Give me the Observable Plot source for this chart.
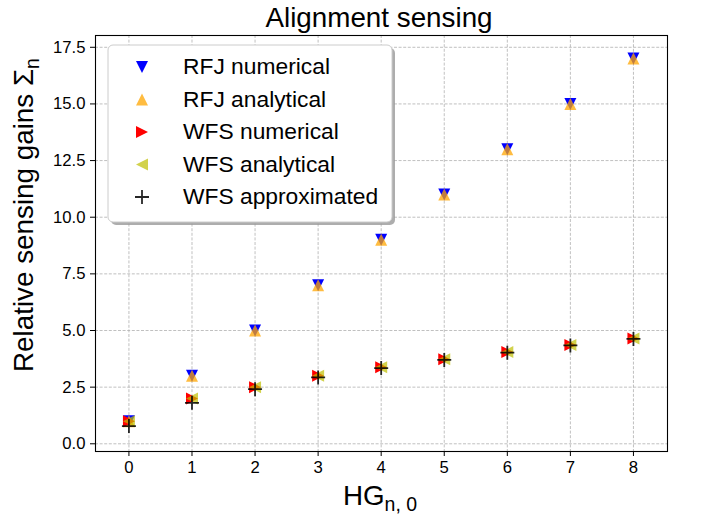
<!DOCTYPE html>
<html>
<head>
<meta charset="utf-8">
<script src="https://cdn.jsdelivr.net/npm/d3@7"></script>
<script src="https://cdn.jsdelivr.net/npm/@observablehq/plot@0.6"></script>
<style>
  html, body { margin: 0; padding: 0; background: white; }
  #chart { position: relative; width: 705px; height: 516px; }
</style>
</head>
<body>
<div id="chart"></div>
<script>
// ---- data ----
const modes = [0, 1, 2, 3, 4, 5, 6, 7, 8];
const rfjNumerical = [1, 3, 5, 7, 9, 11, 13, 15, 17];
const rfjAnalytical = [1, 3, 5, 7, 9, 11, 13, 15, 17];
const wfsNumerical = [1, 2, 2.5, 3, 3.38, 3.73, 4.05, 4.36, 4.65];
const wfsAnalytical = [1, 2, 2.5, 3, 3.38, 3.73, 4.05, 4.36, 4.65];
const wfsApproximated = [0.78, 1.81, 2.41, 2.93, 3.34, 3.7, 4.02, 4.34, 4.63];
const xTicks = [0, 1, 2, 3, 4, 5, 6, 7, 8];
const yTicks = [0, 2.5, 5, 7.5, 10, 12.5, 15, 17.5];
const legendLabels = ["RFJ numerical", "RFJ analytical", "WFS numerical", "WFS analytical", "WFS approximated"];

const rows = modes.map((n, i) => ({
  n,
  rfjNum: rfjNumerical[i],
  rfjAna: rfjAnalytical[i],
  wfsNum: wfsNumerical[i],
  wfsAna: wfsAnalytical[i],
  wfsApp: wfsApproximated[i]
}));

// ---- custom marker shapes (matplotlib-like) ----
const rad = (size) => Math.sqrt(size / Math.PI);
const triDown = { draw(c, size) { const r = rad(size); c.moveTo(-r, -r); c.lineTo(r, -r); c.lineTo(0, r); c.closePath(); } };
const triUp = { draw(c, size) { const r = rad(size); c.moveTo(0, -r); c.lineTo(r, r); c.lineTo(-r, r); c.closePath(); } };
const triRight = { draw(c, size) { const r = rad(size); c.moveTo(-r, -r); c.lineTo(r, 0); c.lineTo(-r, r); c.closePath(); } };
const triLeft = { draw(c, size) { const r = rad(size); c.moveTo(r, -r); c.lineTo(-r, 0); c.lineTo(r, r); c.closePath(); } };
const plus = { draw(c, size) { const r = rad(size); c.moveTo(-r, 0); c.lineTo(r, 0); c.moveTo(0, -r); c.lineTo(0, r); } };

const styles = [
  { symbol: triDown, fill: "#0000ff", opacity: 1, key: "rfjNum" },
  { symbol: triUp, fill: "#ffa500", opacity: 0.75, key: "rfjAna" },
  { symbol: triRight, fill: "#ff0000", opacity: 1, key: "wfsNum" },
  { symbol: triLeft, fill: "#bfbf00", opacity: 0.7, key: "wfsAna" },
  { symbol: plus, stroke: "#000000", opacity: 0.85, key: "wfsApp" }
];

const gridStyle = { stroke: "#b0b0b0", strokeOpacity: 1, strokeWidth: 0.8, strokeDasharray: "3,1.6" };

const dotMarks = styles.map(s => s.symbol === plus
  ? Plot.dot(rows, { x: "n", y: s.key, symbol: s.symbol, r: 7, fill: "none", stroke: s.stroke, strokeWidth: 1.8, strokeOpacity: s.opacity })
  : Plot.dot(rows, { x: "n", y: s.key, symbol: s.symbol, r: 6, fill: s.fill, fillOpacity: s.opacity, stroke: "none" }));

const chart = Plot.plot({
  width: 705,
  height: 516,
  marginLeft: 95,
  marginRight: 38,
  marginTop: 35,
  marginBottom: 65,
  style: { fontFamily: "'Liberation Sans', Arial, sans-serif", color: "black", background: "white", overflow: "visible" },
  x: { type: "linear", domain: [-0.53, 8.54] },
  y: { type: "linear", domain: [-0.34, 18.02] },
  marks: [
    Plot.gridX({ ticks: xTicks, ...gridStyle }),
    Plot.gridY({ ticks: yTicks, ...gridStyle }),
    Plot.axisX({ ticks: xTicks, tickSize: 5, tickPadding: 5, fontSize: 16.7, label: null, tickFormat: d3.format("d") }),
    Plot.axisY({ ticks: yTicks, tickSize: 5, tickPadding: 5, fontSize: 16.7, label: null, tickFormat: d3.format(".1f") }),
    ...dotMarks,
    Plot.frame({ stroke: "black", strokeWidth: 1.1 })
  ]
});

document.getElementById("chart").appendChild(chart);

// ---- title, axis labels, legend ----
const svg = d3.select(chart);
const font = "'Liberation Sans', Arial, sans-serif";

svg.append("text")
  .attr("x", 379).attr("y", 27)
  .attr("text-anchor", "middle")
  .attr("font-family", font).attr("font-size", 27.8).attr("fill", "black")
  .text("Alignment sensing");

const xl = svg.append("text")
  .attr("x", 380).attr("y", 505)
  .attr("text-anchor", "middle")
  .attr("font-family", font).attr("font-size", 27.8).attr("fill", "black");
xl.append("tspan").text("HG");
xl.append("tspan").attr("font-size", 19.5).attr("dy", 6).text("n, 0");

const yl = svg.append("text")
  .attr("transform", "translate(33,215) rotate(-90)")
  .attr("text-anchor", "middle")
  .attr("font-family", font).attr("font-size", 27.8).attr("fill", "black");
yl.append("tspan").text("Relative sensing gains Σ");
yl.append("tspan").attr("font-size", 19.5).attr("dy", 6).text("n");

// legend
const lg = svg.append("g").attr("text-anchor", "start");
lg.append("rect").attr("x", 111).attr("y", 48).attr("width", 284).attr("height", 177).attr("rx", 5)
  .attr("fill", "#999999").attr("fill-opacity", 0.8);
lg.append("rect").attr("x", 108).attr("y", 45).attr("width", 284).attr("height", 177).attr("rx", 5)
  .attr("fill", "white").attr("stroke", "#cccccc").attr("stroke-width", 1);
const rowY = [67, 99.5, 132, 164.5, 197];
styles.forEach((s, i) => {
  const y = rowY[i];
  const r = s.symbol === plus ? 7 : 6;
  const p = d3.symbol().type(s.symbol).size(Math.PI * r * r)();
  const path = lg.append("path").attr("d", p).attr("transform", `translate(142,${y})`);
  if (s.symbol === plus) path.attr("fill", "none").attr("stroke", s.stroke).attr("stroke-width", 1.8).attr("stroke-opacity", s.opacity);
  else path.attr("fill", s.fill).attr("fill-opacity", s.opacity);
  lg.append("text").attr("x", 183).attr("y", y + 7)
    .attr("text-anchor", "start")
    .attr("font-family", font).attr("font-size", 22.8).attr("fill", "black")
    .text(legendLabels[i]);
});
</script>
</body>
</html>
